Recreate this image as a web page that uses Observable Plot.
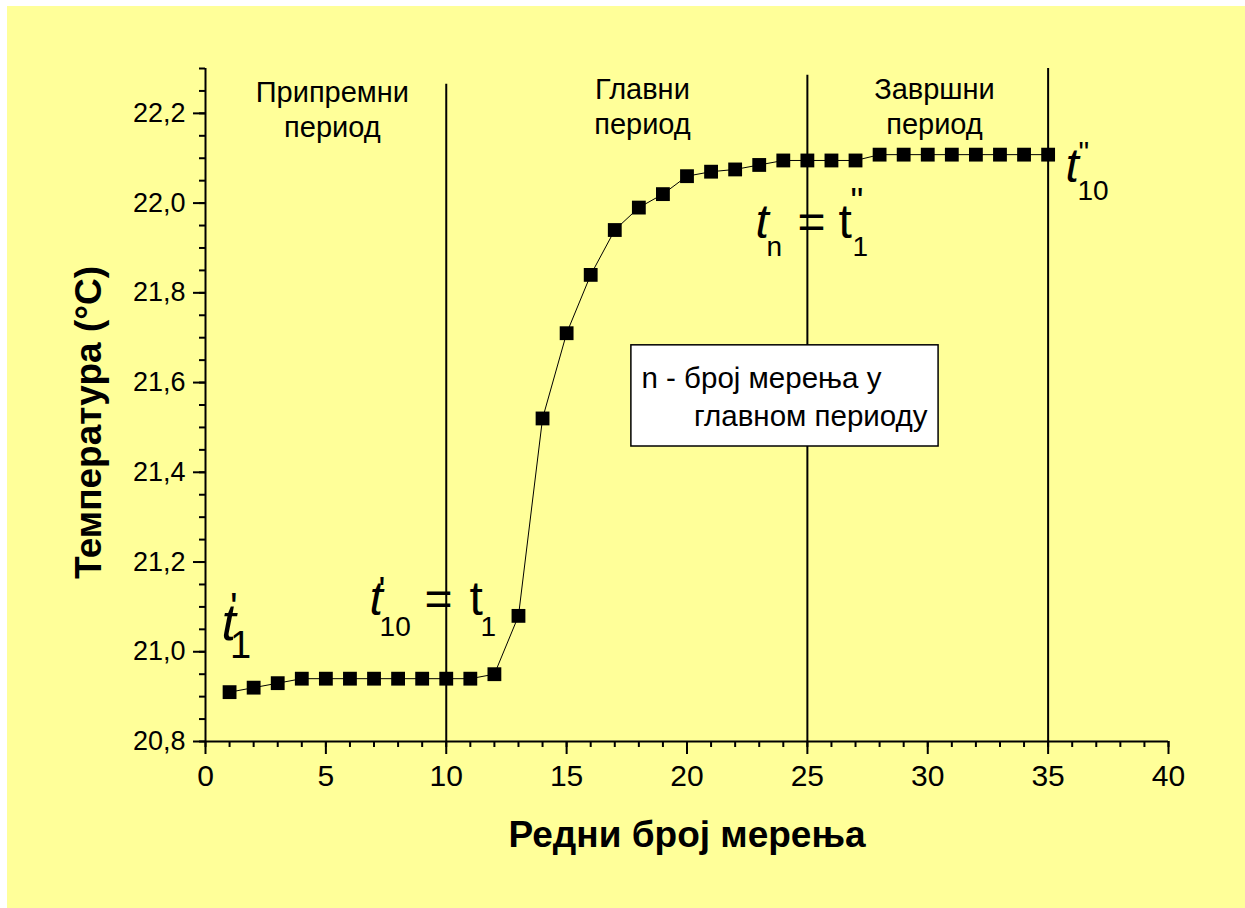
<!DOCTYPE html>
<html><head><meta charset="utf-8">
<script src="https://cdn.jsdelivr.net/npm/d3@7"></script>
<script src="https://cdn.jsdelivr.net/npm/@observablehq/plot@0.6"></script>
<style>
html,body{margin:0;padding:0;background:#fff;width:1245px;height:908px;overflow:hidden}
#bg{position:absolute;left:7px;top:6px;width:1238px;height:902px;background:#ffff99}
#chart{position:absolute;left:0;top:0}
</style></head><body>
<div id="bg"></div><div id="chart"></div>
<script>
const FONT = "Liberation Sans, Arial, sans-serif";

// measurement number (Редни број мерења)
const measurementNo = [1,2,3,4,5,6,7,8,9,10,11,12,13,14,15,16,17,18,19,20,21,22,23,24,25,26,27,28,29,30,31,32,33,34,35];
// temperature (°C)
const temperature = [20.91,20.92,20.93,20.94,20.94,20.94,20.94,20.94,20.94,20.94,20.94,20.95,
  21.08,21.52,21.71,21.84,21.94,21.99,22.02,22.06,22.07,22.075,22.085,22.095,22.095,22.095,22.095,
  22.108,22.108,22.108,22.108,22.108,22.108,22.108,22.108];

const xTicks = [0,5,10,15,20,25,30,35,40];
const xMinorTicks = d3.range(0, 41, 1);
const yTicks = [20.8,21.0,21.2,21.4,21.6,21.8,22.0,22.2];
const yMinorTicks = d3.range(0, 31).map(i => +(20.8 + i * 0.05).toFixed(2));

const periodBoundary = [10, 25, 35];
const boundaryTop = [22.265, 22.285, 22.3];
const periodLabels = ["Припремни\nпериод", "Главни\nпериод", "Завршни\nпериод"];
const periodLabelX = [5.27, 18.15, 30.28];
const periodLabelY = [22.282, 22.289, 22.289];

const noteLines = ["n - број мерења у", "главном периоду"];

// annotation pieces: text, x, y (baseline unless top), font size, italic
const annotations = [
  {t: "t", x: 0.66, y: 21.027, s: 52, i: true},
  {t: "'", x: 1.02, y: 21.132, s: 40, i: false, top: true},
  {t: "1", x: 1.02, y: 20.987, s: 38, i: false},

  {t: "t", x: 6.81, y: 21.081, s: 48, i: true},
  {t: "'", x: 7.19, y: 21.166, s: 36, i: false, top: true},
  {t: "10", x: 7.23, y: 21.036, s: 28, i: false},
  {t: "=", x: 9.10, y: 21.081, s: 48, i: false},
  {t: "t", x: 10.97, y: 21.081, s: 48, i: false},
  {t: "1", x: 11.42, y: 21.036, s: 28, i: false},

  {t: "t", x: 22.85, y: 21.923, s: 48, i: true},
  {t: "n", x: 23.30, y: 21.883, s: 28, i: false},
  {t: "=", x: 24.59, y: 21.923, s: 48, i: false},
  {t: "t", x: 26.29, y: 21.923, s: 48, i: false},
  {t: "\"", x: 26.79, y: 22.0325, s: 36, i: false, top: true},
  {t: "1", x: 26.87, y: 21.883, s: 28, i: false},

  {t: "t", x: 35.72, y: 22.046, s: 48, i: true},
  {t: "\"", x: 36.26, y: 22.14, s: 30, i: false, top: true},
  {t: "10", x: 36.22, y: 22.006, s: 28, i: false}
];

const points = measurementNo.map((n, i) => ({n, temp: temperature[i]}));
const bounds = periodBoundary.map((x, i) => ({x, top: boundaryTop[i]}));
const periods = periodLabels.map((label, i) => ({label, x: periodLabelX[i], y: periodLabelY[i]}));
const box = {x1: 17.69, x2: 30.45, y1: 21.4575, y2: 21.683};

const fmtY = d => d.toFixed(1).replace(".", ",");

const annotationMarks = annotations.map(a => Plot.text([a], {
  x: "x", y: "y", text: "t", fontSize: a.s, fontStyle: a.i ? "italic" : "normal",
  textAnchor: "start", lineAnchor: a.top ? "top" : "bottom", fill: "black", fontFamily: FONT
}));

const chart = Plot.plot({
  width: 1245, height: 908,
  marginLeft: 205, marginRight: 77, marginTop: 68, marginBottom: 167,
  style: {background: "transparent", fontFamily: FONT, overflow: "visible", color: "black"},
  x: {domain: [0, 40], label: null},
  y: {domain: [20.8, 22.3], label: null},
  marks: [
    Plot.ruleX(bounds, {x: "x", y1: 20.8, y2: "top", stroke: "black", strokeWidth: 2}),
    Plot.rect([box], {x1: "x1", x2: "x2", y1: "y1", y2: "y2", fill: "white", stroke: "black", strokeWidth: 1.5}),
    Plot.line(points, {x: "n", y: "temp", curve: "linear", stroke: "black", strokeWidth: 1}),
    Plot.dot(points, {x: "n", y: "temp", symbol: "square", r: 7.8, fill: "black"}),
    Plot.ruleY([20.8], {stroke: "black", strokeWidth: 2}),
    Plot.ruleX([0], {stroke: "black", strokeWidth: 2}),
    Plot.axisX(xMinorTicks, {tickSize: 6, tickFormat: () => "", strokeWidth: 2, label: null}),
    Plot.axisX(xTicks, {tickSize: 13, tickPadding: 10, fontSize: 30, strokeWidth: 2, tickFormat: d => String(d), label: null, fontFamily: FONT}),
    Plot.axisY(yMinorTicks, {tickSize: 6, tickFormat: () => "", strokeWidth: 2, label: null}),
    Plot.axisY(yTicks, {tickSize: 12, tickPadding: 8, fontSize: 27, strokeWidth: 2, tickFormat: fmtY, label: null, fontFamily: FONT}),
    Plot.text(periods, {x: "x", y: "y", text: "label", fontSize: 29, lineAnchor: "top", lineHeight: 1.22, fill: "black", fontFamily: FONT}),
    Plot.text([noteLines[0]], {x: 18.11, y: 21.589, text: d => d, textAnchor: "start", lineAnchor: "bottom", fontSize: 29.5, fill: "black", fontFamily: FONT}),
    Plot.text([noteLines[1]], {x: 29.99, y: 21.504, text: d => d, textAnchor: "end", lineAnchor: "bottom", fontSize: 29.5, fill: "black", fontFamily: FONT}),
    ...annotationMarks,
    Plot.text(["Редни број мерења"], {frameAnchor: "bottom", dy: 105, text: d => d, textAnchor: "middle", lineAnchor: "bottom", fontSize: 37, fontWeight: "bold", fill: "black", fontFamily: FONT}),
    Plot.text(["Температура (°C)"], {frameAnchor: "left", dx: -105, dy: 17.5, rotate: -90, text: d => d, textAnchor: "middle", lineAnchor: "bottom", fontSize: 37, fontWeight: "bold", fill: "black", fontFamily: FONT})
  ]
});
document.getElementById("chart").appendChild(chart);
</script>
</body></html>
